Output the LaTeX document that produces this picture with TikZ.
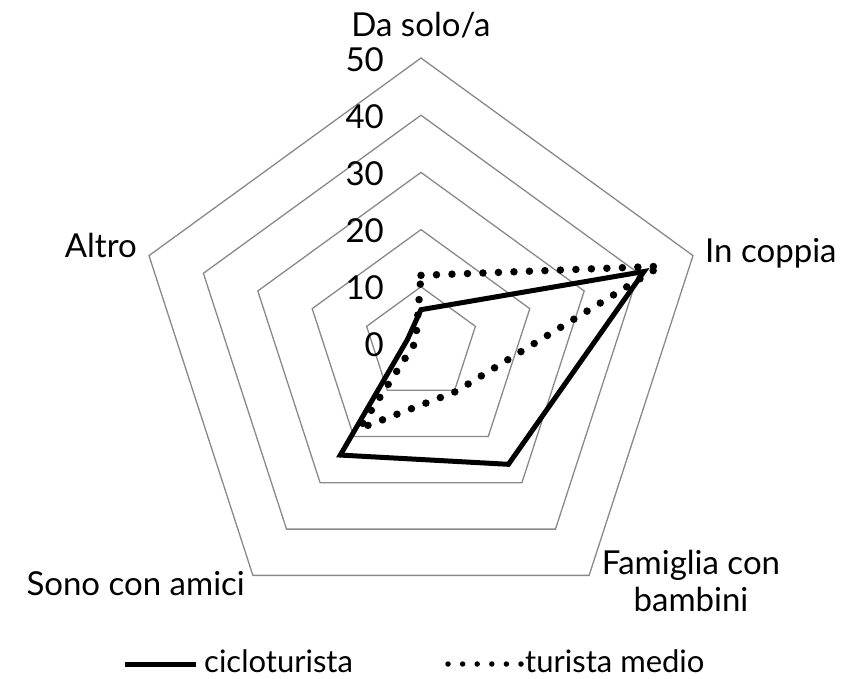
\documentclass[tikz,border=0pt]{standalone}
\usepackage{fontspec}
\setmainfont{Lato}
\definecolor{ringgray}{HTML}{898989}
\begin{document}
\begin{tikzpicture}[x=1pt,y=-1pt,
  ring/.style={draw=ringgray,line width=1.3pt,line join=miter},
  ser1/.style={draw=black,line width=5pt,line join=miter},
  ser2/.style={draw=black,line width=7.5pt,line cap=round,dash pattern=on 0pt off 15.5pt},
  leg2/.style={draw=black,line width=5.5pt,line cap=round,dash pattern=on 0pt off 14.6pt},
  lbl/.style={inner sep=0pt,font=\fontsize{33}{37}\selectfont},
  leg/.style={inner sep=0pt,font=\fontsize{31}{37}\selectfont},
  num/.style={inner sep=0pt,font=\fontsize{33}{37}\selectfont,anchor=east}]
\useasboundingbox (0,0) rectangle (846,679);
\begin{scope}[shift={(421,344)}]
  \foreach \k in {1,...,5}{
    \draw[ring] (-90:57.2*\k) -- (-18:57.2*\k) -- (54:57.2*\k) -- (126:57.2*\k) -- (198:57.2*\k) -- cycle;
  }
  % cicloturista
  \coordinate (c1) at (-90:6*5.72);
  \coordinate (c2) at (-18:41*5.72);
  \coordinate (c3) at (54:26*5.72);
  \coordinate (c4) at (126:24*5.72);
  \coordinate (c5) at (198:2.5*5.72);
  % turista medio
  \coordinate (t1) at (-90:12*5.72);
  \coordinate (t2) at (-18:44*5.72);
  \coordinate (t3) at (54:10.3*5.72);
  \coordinate (t4) at (126:18.3*5.72);
  \coordinate (t5) at (198:1*5.72);
  \draw[ser1] (c1) -- (c2) -- (c3) -- (c4) -- (c5) -- cycle;
  \draw[ser2] (t1) -- (t2) -- (t3) -- (t4) -- (t5) -- cycle;
\end{scope}
% axis numbers
\node[num] (n50) at (384,60) {50};
\node[num] (n40) at (384,117) {40};
\node[num] (n30) at (384,174) {30};
\node[num] (n20) at (384,231) {20};
\node[num] (n10) at (384,288) {10};
\node[num] (n0) at (384,345) {0};
% category labels
\node[lbl,anchor=base] (lsolo) at (421,37) {Da solo/a};
\node[lbl,anchor=base west] (lcoppia) at (705,262) {In coppia};
\node[lbl,anchor=base east] (laltro) at (137,258) {Altro};
\node[lbl,anchor=base east] (lamici) at (245,595) {Sono con amici};
\node[lbl,anchor=south,align=center] (lfam) at (691,612) {Famiglia con\\bambini};
% legend
\coordinate (la) at (125,664);
\coordinate (lb) at (196,664);
\draw[ser1] (la) -- (lb);
\node[leg,anchor=base west] (lciclo) at (204,672) {cicloturista};
\coordinate (lc) at (448,664);
\coordinate (ld) at (521,664);
\draw[leg2] (lc) -- (ld);
\node[leg,anchor=base west] (lmedio) at (525,672) {turista medio};
\end{tikzpicture}
\end{document}
